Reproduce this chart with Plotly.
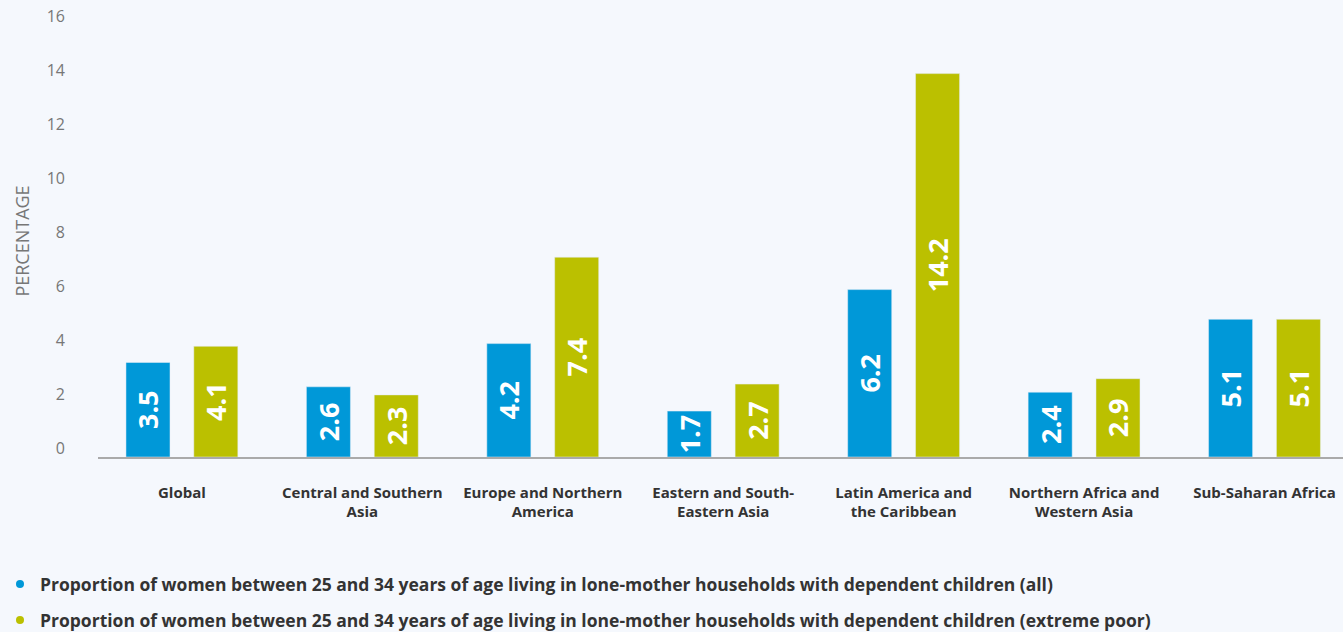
import plotly.graph_objects as go

categories = ["Global", "Central and Southern<br>Asia", "Europe and Northern<br>America",
              "Eastern and South-<br>Eastern Asia", "Latin America and<br>the Caribbean",
              "Northern Africa and<br>Western Asia", "Sub-Saharan Africa"]
all_vals = [3.5, 2.6, 4.2, 1.7, 6.2, 2.4, 5.1]
poor_vals = [4.1, 2.3, 7.4, 2.7, 14.2, 2.9, 5.1]
series_names = [
    "Proportion of women between 25 and 34 years of age living in lone-mother households with dependent children (all)",
    "Proportion of women between 25 and 34 years of age living in lone-mother households with dependent children (extreme poor)",
]
y_ticks = [0, 2, 4, 6, 8, 10, 12, 14, 16]

BLUE = "#0098d8"
OLIVE = "#bbc000"
BG = "#f5f8fd"
FONT = "Open Sans"

fig = go.Figure()
for vals, color, name, lg in [(all_vals, BLUE, series_names[0], "legend"),
                              (poor_vals, OLIVE, series_names[1], "legend2")]:
    fig.add_trace(go.Bar(
        x=categories, y=vals, marker_color=color, name=name, showlegend=False,
        text=[f"{v:.1f}" for v in vals], textposition="inside", insidetextanchor="middle",
        textangle=-90, constraintext="none",
        textfont=dict(family=FONT, size=27, color="white", weight=700),
        hoverinfo="skip",
    ))
    fig.add_trace(go.Scatter(
        x=[None], y=[None], mode="markers", name=name, legend=lg,
        marker=dict(color=color, size=8, symbol="circle"),
    ))

legend_common = dict(
    xref="container", yref="container", x=0, xanchor="left", yanchor="top",
    orientation="h", itemwidth=30,
    font=dict(family=FONT, size=17.5, color="#333333", weight=700),
    bgcolor="rgba(0,0,0,0)",
)

fig.update_layout(
    width=1343, height=632,
    paper_bgcolor=BG, plot_bgcolor=BG,
    margin=dict(l=98, r=0, t=25, b=175),
    barmode="group", bargap=0.248, bargroupgap=0.351,
    font=dict(family=FONT),
    showlegend=True,
    legend=dict(legend_common, y=1 - 566 / 632),
    legend2=dict(legend_common, y=1 - 602 / 632),
    xaxis=dict(
        range=[-0.465, 6.435], showgrid=False, showline=True, linecolor="#aaaaaa", linewidth=1.5,
        ticks="", tickfont=dict(family=FONT, size=15, color="#333333", weight=700),
        ticklabelstandoff=21, fixedrange=True,
    ),
    yaxis=dict(
        range=[0, 16], tickvals=y_ticks, showgrid=False, zeroline=False, showline=False,
        ticks="", tickfont=dict(family=FONT, size=16, color="#777777"),
        ticklabelshift=-9, ticklabelstandoff=32,
        title=dict(text="PERCENTAGE", font=dict(family=FONT, size=18, color="#777777"), standoff=12),
        fixedrange=True,
    ),
)

fig.write_html("out.html", config={"displayModeBar": False},
               post_script="document.body.style.margin='0';")
